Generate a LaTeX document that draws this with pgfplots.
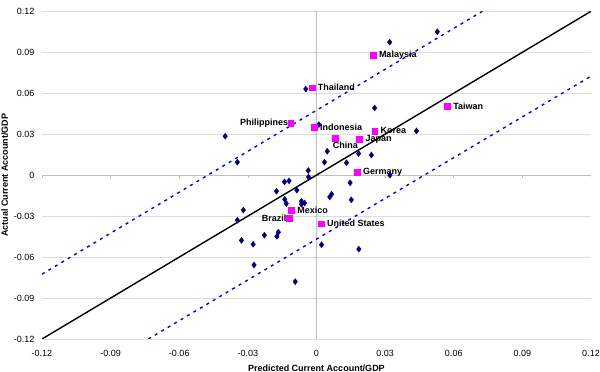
\documentclass[border=0pt]{standalone}
\usepackage{fontspec}
\setmainfont{Liberation Sans}
\usepackage{pgfplots}
\pgfplotsset{compat=1.18}
\definecolor{navy}{HTML}{000080}
\definecolor{mag}{HTML}{FF00FF}
\definecolor{gridc}{HTML}{DDDDDD}
\definecolor{axc}{HTML}{C0C0C0}
\begin{document}
\begin{tikzpicture}[font=\fontsize{9}{11}\selectfont]
\begin{axis}[
  scale only axis, width=549pt, height=327.7pt,
  xmin=-0.12, xmax=0.12, ymin=-0.12, ymax=0.12,
  xtick={-0.12,-0.09,-0.06,-0.03,0,0.03,0.06,0.09,0.12},
  xticklabels={-0.12,-0.09,-0.06,-0.03,0,0.03,0.06,0.09,0.12},
  ytick={-0.12,-0.09,-0.06,-0.03,0,0.03,0.06,0.09,0.12},
  yticklabels={-0.12,-0.09,-0.06,-0.03,0,0.03,0.06,0.09,0.12},
  axis line style={draw=none},
  major tick length=0pt,
  ymajorgrids, grid style={color=gridc, line width=0.7pt},
  xlabel={\textbf{Predicted Current Account/GDP}},
  ylabel={\textbf{Actual Current Account/GDP}},
  xlabel style={at={(axis description cs:0.5,-0.088)}, anchor=center},
  ylabel style={at={(axis description cs:-0.068,0.5)}, anchor=center},
  x tick label style={yshift=-7.5pt},
  y tick label style={xshift=-4pt},
]
\coordinate (O) at (rel axis cs:0,0);
\draw[axc, line width=0.7pt] (axis cs:0,-0.12) -- (axis cs:0,0.12);
\draw[axc, line width=0.7pt] (axis cs:-0.12,0) -- (axis cs:0.12,0);
\pgfplotsinvokeforeach{-0.12,-0.09,-0.06,-0.03,0.03,0.06,0.09,0.12}{
  \draw[axc, line width=0.7pt] (axis cs:0,#1) -- ++(-3pt,0pt);
  \draw[axc, line width=0.7pt] (axis cs:#1,0) -- ++(0pt,-3pt);
}
% 45 degree line
\addplot[black, line width=1.4pt, no marks] coordinates {(-0.12,-0.12) (0.12,0.12)};
% bands
\addplot[blue, line width=1.4pt, dash pattern=on 3pt off 4.5pt, no marks] coordinates {(-0.12,-0.0725) (0.0725,0.12)};
\addplot[blue, line width=1.4pt, dash pattern=on 3pt off 4.5pt, no marks] coordinates {(-0.0735,-0.12) (0.12,0.0725)};
% other countries
\addplot[only marks, mark=diamond*, mark size=3pt, color=navy] coordinates {
(-0.0399,0.0285) (-0.0346,0.0095) (-0.0047,0.0630) (0.0010,0.0370)
(0.0320,0.0974) (0.0528,0.1050) (0.0254,0.0492) (0.0437,0.0324)
(0.0047,0.0175) (0.0035,0.0095) (0.0131,0.0091) (0.0184,0.0158)
(0.0240,0.0147) (-0.0036,0.0034) (-0.0035,-0.0014) (0.0321,0.0000)
(0.0147,-0.0056) (-0.0140,-0.0049) (-0.0120,-0.0042) (-0.0175,-0.0118)
(-0.0086,-0.0110) (0.0066,-0.0140) (0.0058,-0.0160) (0.0152,-0.0181)
(-0.0139,-0.0177) (-0.0132,-0.0208) (-0.0066,-0.0192) (-0.0052,-0.0204)
(-0.0066,-0.0214) (-0.0320,-0.0256) (-0.0346,-0.0330) (-0.0328,-0.0478)
(-0.0277,-0.0506) (-0.0228,-0.0440) (-0.0173,-0.0448) (-0.0167,-0.0418)
(-0.0273,-0.0658) (-0.0093,-0.0780) (0.0022,-0.0510) (0.0185,-0.0542)
};
% labelled countries
\addplot[only marks, mark=square*, mark size=2.9pt, color=mag] coordinates {
(0.0247,0.0879) (-0.0020,0.0640) (0.0572,0.0506) (-0.0113,0.0380)
(-0.0010,0.0350) (0.0254,0.0321) (0.0188,0.0266) (0.0080,0.0273)
(0.0178,0.0022) (-0.0110,-0.0255) (-0.0121,-0.0316) (0.0020,-0.0355)
};
\tikzset{lab/.style={font=\bfseries\fontsize{9}{11}\selectfont, inner sep=0.3pt, text=black}}
\node[lab, anchor=west, xshift=5.5pt] at (axis cs:0.0247,0.0879) {Malaysia};
\node[lab, anchor=west, xshift=5.5pt] at (axis cs:-0.0020,0.0640) {Thailand};
\node[lab, anchor=west, xshift=5.5pt] at (axis cs:0.0572,0.0506) {Taiwan};
\node[lab, anchor=east, xshift=-2pt] at (axis cs:-0.0113,0.0380) {Philippines};
\node[lab, anchor=west, xshift=5.5pt] at (axis cs:-0.0010,0.0350) {Indonesia};
\node[lab, anchor=west, xshift=5.5pt, yshift=0.5pt] at (axis cs:0.0254,0.0321) {Korea};
\node[lab, anchor=west, xshift=5.5pt, yshift=-0.5pt] at (axis cs:0.0188,0.0266) {Japan};
\node[lab, anchor=west, xshift=-2.5pt, yshift=-7pt] at (axis cs:0.0080,0.0273) {China};
\node[lab, anchor=west, xshift=5.5pt] at (axis cs:0.0178,0.0022) {Germany};
\node[lab, anchor=west, xshift=5.5pt] at (axis cs:-0.0110,-0.0255) {Mexico};
\node[lab, anchor=east, xshift=-2pt] at (axis cs:-0.0121,-0.0316) {Brazil};
\node[lab, anchor=west, xshift=5.5pt] at (axis cs:0.0020,-0.0355) {United States};
\end{axis}
\pgfresetboundingbox
\path (O) ++(-42pt,-33pt) rectangle ++(600pt,372pt);
\end{tikzpicture}
\end{document}
